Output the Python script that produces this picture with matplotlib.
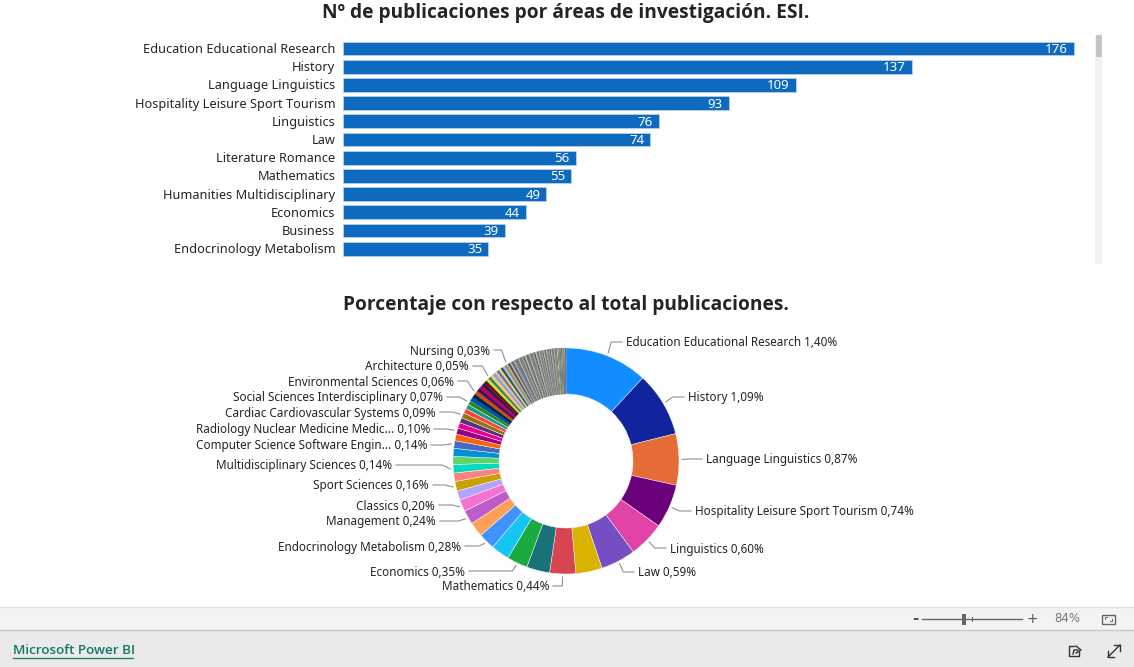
import matplotlib
matplotlib.use('Agg')
import matplotlib.pyplot as plt
from matplotlib.patches import Rectangle
import numpy as np

W, H = 1134, 667

areas = ['Education Educational Research', 'History', 'Language Linguistics',
         'Hospitality Leisure Sport Tourism', 'Linguistics', 'Law', 'Literature Romance',
         'Mathematics', 'Humanities Multidisciplinary', 'Economics', 'Business',
         'Endocrinology Metabolism']
counts = [176, 137, 109, 93, 76, 74, 56, 55, 49, 44, 39, 35]

# the remaining slices of the donut, counts
rest_counts = [31, 30, 25, 20, 20, 18, 18, 17, 17, 16, 14, 13, 12, 11, 11, 10, 10, 9, 9, 8, 8,
               8, 7, 7, 7, 6, 6, 6, 6, 5, 5, 5, 5, 5, 4,
               4, 4, 4, 4, 4, 4, 3, 3, 3, 3, 3, 3, 3, 3, 3, 3, 3, 3, 3, 3, 3,
               2, 2, 2, 2, 2, 2, 2, 2, 2, 2, 2, 2, 2, 2, 2, 2, 2, 2, 2, 2,
               1, 1, 1, 1, 1, 1, 1, 1, 1, 1, 1, 1, 1, 1, 1, 1, 1, 1, 1, 1, 1, 1]
slices = counts + rest_counts

colors = ['#118DFF', '#12239E', '#E66C37', '#6B007B', '#E044A7', '#744EC2', '#D9B300', '#D64550',
          '#197278', '#1AAB40', '#15C6F4', '#4092FF', '#FFA058', '#BE5DC9', '#F472D0', '#B5A1FF',
          '#C4A200', '#FF8080', '#00DBBC', '#5BD667', '#0091D5', '#4668C5', '#FF6300', '#99008A',
          '#EC008C', '#533285', '#99700A', '#FF4141', '#1F9A85', '#25891C', '#0057A2', '#002050',
          '#C94F0F', '#450F54', '#B60064', '#34124F', '#6A1604', '#C8E63C', '#3F7F5F', '#FFC870',
          '#7FA8D8', '#F0B890', '#5A6FA0', '#E8D080', '#2F4F4F', '#A0C0E0', '#8A8A50', '#D0A870',
          '#404870', '#B0B090', '#606060', '#909CC0']
# muted stripes at the end of the ring
tail_colors = ['#6E7890', '#A8A070', '#4A5A78', '#C0B890', '#7A8070', '#59607A', '#B4B4A0', '#70787E']
lime = '#A6F03C'
lime_at = 92

# text, slice index, side, x, y (pixels)
labels = [('Education Educational Research 1,40%', 0, 'l', 626, 342),
          ('History 1,09%', 1, 'l', 688, 397),
          ('Language Linguistics 0,87%', 2, 'l', 706, 459),
          ('Hospitality Leisure Sport Tourism 0,74%', 3, 'l', 695, 511),
          ('Linguistics 0,60%', 4, 'l', 670, 548),
          ('Law 0,59%', 5, 'l', 638, 572),
          ('Mathematics 0,44%', 7, 'r', 549, 586),
          ('Economics 0,35%', 9, 'r', 465, 571),
          ('Endocrinology Metabolism 0,28%', 11, 'r', 461, 546),
          ('Management 0,24%', 13, 'r', 436, 521),
          ('Classics 0,20%', 14, 'r', 435, 505),
          ('Sport Sciences 0,16%', 16, 'r', 429, 485),
          ('Multidisciplinary Sciences 0,14%', 18, 'r', 392, 465),
          ('Computer Science Software Engin... 0,14%', 21, 'r', 427, 445),
          ('Radiology Nuclear Medicine Medic... 0,10%', 23, 'r', 430, 429),
          ('Cardiac Cardiovascular Systems 0,09%', 26, 'r', 436, 412),
          ('Social Sciences Interdisciplinary 0,07%', 29, 'r', 443, 397),
          ('Environmental Sciences 0,06%', 32, 'r', 454, 381),
          ('Architecture 0,05%', 38, 'r', 469, 366),
          ('Nursing 0,03%', 47, 'r', 490, 350)]

txt = '#252423'
font = 'Noto Sans'
print(sum(slices))


def px_axes(x, y, w, h):
    return fig.add_axes([x / W, 1 - (y + h) / H, w / W, h / H])


def slice_color(i):
    if i == lime_at:
        return lime
    if i < len(colors):
        return colors[i]
    return tail_colors[i % len(tail_colors)]


fig = plt.figure(figsize=(W / 100, H / 100), dpi=100, facecolor='white')

# page overlay in pixel coords
bg = fig.add_axes([0, 0, 1, 1])
bg.set_xlim(0, W)
bg.set_ylim(H, 0)
bg.axis('off')
bg.add_patch(Rectangle((0, 607), W, 23, fc='#F3F3F3', ec='none'))
bg.add_patch(Rectangle((0, 630), W, 37, fc='#EAEAEA', ec='none'))
bg.plot([0, W], [607, 607], color='#E0E0E0', lw=1)
bg.plot([0, W], [630, 630], color='#C8C8C8', lw=1)
bg.add_patch(Rectangle((1095, 35), 7, 229, fc='#F2F2F2', ec='none'))
bg.add_patch(Rectangle((1096, 35), 6, 22, fc='#C4C4C4', ec='none'))

bg.text(566, 13, 'Nº de publicaciones por áreas de investigación. ESI.', ha='center', va='center',
        fontsize=13.8, fontweight='bold', color=txt, family='Open Sans')
bg.text(566, 305, 'Porcentaje con respecto al total publicaciones.', ha='center', va='center',
        fontsize=13.8, fontweight='bold', color=txt, family='Open Sans')

# bars
ax = px_axes(343, 39, 752, 225)
y = np.arange(len(areas))
ax.barh(y + 0.03, counts, height=0.76, color='#0D6ABF', edgecolor='#BBD5EE', linewidth=0.5)
ax.set_xlim(0, 752 / 4.153)
ax.set_ylim((264 - 48) / 18.2, (39 - 48) / 18.2)
ax.set_yticks(y, areas, fontsize=9.2, color=txt, family=font)
ax.set_xticks([])
ax.tick_params(axis='y', length=0, pad=5.5)
for s in ax.spines.values():
    s.set_visible(False)
ax.patch.set_alpha(0)
for i, c in enumerate(counts):
    ax.text(c - 1.5, i + 0.08, str(c), ha='right', va='center', color='white', fontsize=9.5, family=font)

# donut
pie_ax = px_axes(453, 348, 226, 226)
wedges, _ = pie_ax.pie(slices, colors=[slice_color(i) for i in range(len(slices))],
                       startangle=90, counterclock=False, radius=1,
                       wedgeprops=dict(width=46 / 113, edgecolor='white', linewidth=0.3))
pie_ax.set_xlim(-1, 1)
pie_ax.set_ylim(-1, 1)
# thin slices get no white border, it would wash them out
for w in wedges[30:]:
    w.set_edgecolor(w.get_facecolor())
    w.set_linewidth(0.2)

cx, cy, r = 566, 461, 113
for text, idx, side, tx, ty in labels:
    ang = np.deg2rad((wedges[idx].theta1 + wedges[idx].theta2) / 2)
    x0 = cx + (r + 3) * np.cos(ang)
    y0 = cy - (r + 3) * np.sin(ang)
    x1 = cx + (r + 11) * np.cos(ang)
    y1 = cy - (r + 11) * np.sin(ang)
    if side == 'l':
        bg.plot([x0, x1, tx - 4], [y0, ty if abs(y1 - ty) < 12 else y1, ty], color='#909090', lw=0.8, zorder=1)
        bg.text(tx, ty + 1, text, ha='left', va='center', fontsize=8.42, color=txt, family=font)
    else:
        bg.plot([x0, x1, tx + 4], [y0, ty if abs(y1 - ty) < 12 else y1, ty], color='#909090', lw=0.8, zorder=1)
        bg.text(tx, ty + 1, text, ha='right', va='center', fontsize=8.42, color=txt, family=font)

# footer
bg.text(13, 651, 'Microsoft Power BI', ha='left', va='center', fontsize=9.7, color='#117865',
        family='Open Sans', fontweight='semibold')
bg.plot([13, 133], [658, 658], color='#117865', lw=0.9)
bg.text(915, 619, '-', ha='center', va='center', fontsize=11, color='#555555', fontweight='bold')
bg.plot([922, 1022], [619, 619], color='#666666', lw=1)
bg.add_patch(Rectangle((962, 614), 4, 11, fc='#666666', ec='none'))
bg.plot([972, 972], [617, 621], color='#666666', lw=0.8)
bg.text(1032, 619, '+', ha='center', va='center', fontsize=10, color='#555555')
bg.text(1067, 619, '84%', ha='center', va='center', fontsize=8.5, color='#777777')
bg.add_patch(Rectangle((1102, 614.5), 13, 9, fc='none', ec='#666666', lw=1))
bg.plot([1105, 1105, 1107], [619, 617, 617], color='#666666', lw=0.7)
bg.plot([1110, 1112, 1112], [621, 621, 619], color='#666666', lw=0.7)
# share icon
bg.plot([1074, 1069, 1069, 1079, 1079], [646, 646, 656, 656, 652], color='#333333', lw=1)
bg.plot([1073, 1074, 1078], [654, 650, 650], color='#333333', lw=1)
bg.plot([1076, 1081, 1076], [646, 650, 653], color='#333333', lw=1)
# expand icon
bg.plot([1108, 1120], [657, 645], color='#333333', lw=1)
bg.plot([1114, 1120, 1120], [645, 645, 651], color='#333333', lw=1)
bg.plot([1108, 1108, 1114], [651, 657, 657], color='#333333', lw=1)

fig.savefig('out.png', dpi=100)
